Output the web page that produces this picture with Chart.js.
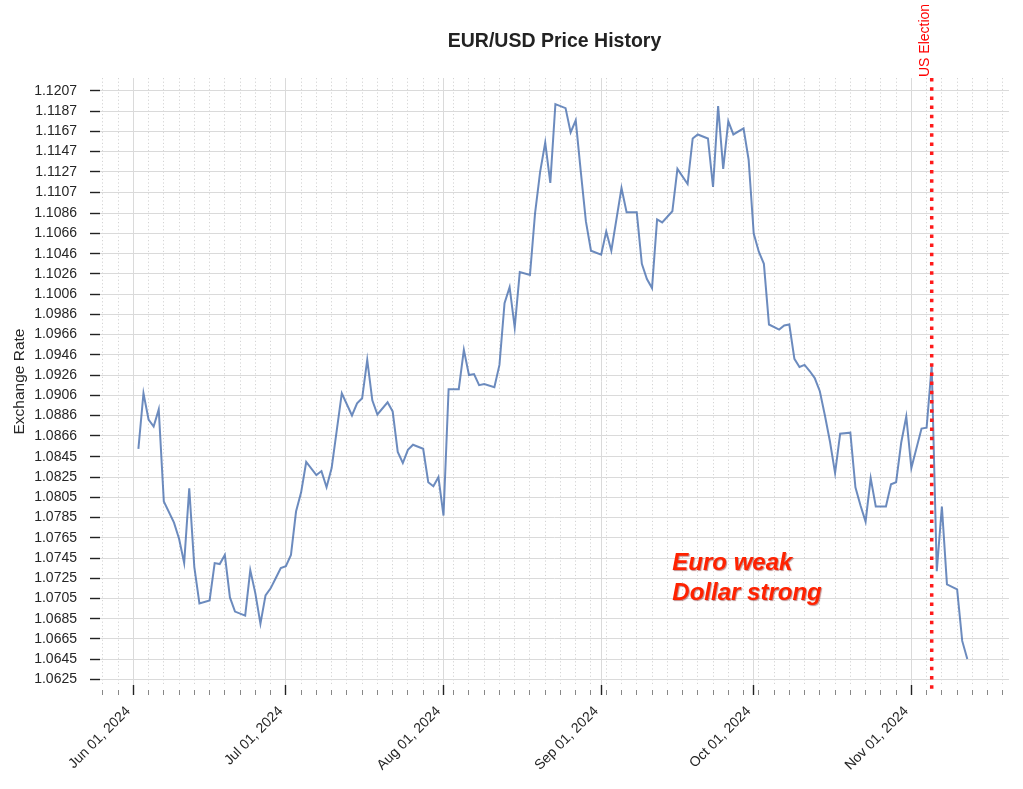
<!DOCTYPE html>
<html>
<head>
<meta charset="utf-8">
<title>EUR/USD Price History</title>
<script src="https://cdn.jsdelivr.net/npm/chart.js@4.4.1/dist/chart.umd.min.js"></script>
<style>
  html, body { margin: 0; padding: 0; background: #fff; }
  canvas { display: block; }
</style>
</head>
<body>
<canvas id="eurusd-chart" width="1023" height="789"></canvas>
<script>
// daily EUR/USD closes
const dates = [
  '2024-06-02','2024-06-03','2024-06-04','2024-06-05','2024-06-06','2024-06-07','2024-06-09','2024-06-10',
  '2024-06-11','2024-06-12','2024-06-13','2024-06-14','2024-06-16','2024-06-17','2024-06-18','2024-06-19',
  '2024-06-20','2024-06-21','2024-06-23','2024-06-24','2024-06-25','2024-06-26','2024-06-27','2024-06-28',
  '2024-06-29','2024-06-30',
  '2024-07-01','2024-07-02','2024-07-03','2024-07-04','2024-07-05','2024-07-07','2024-07-08','2024-07-09',
  '2024-07-10','2024-07-11','2024-07-12','2024-07-14','2024-07-15','2024-07-16','2024-07-17','2024-07-18',
  '2024-07-19','2024-07-21','2024-07-22','2024-07-23','2024-07-24','2024-07-25','2024-07-26','2024-07-28',
  '2024-07-29','2024-07-30','2024-07-31',
  '2024-08-01','2024-08-02','2024-08-04','2024-08-05','2024-08-06','2024-08-07','2024-08-08','2024-08-09',
  '2024-08-11','2024-08-12','2024-08-13','2024-08-14','2024-08-15','2024-08-16','2024-08-18','2024-08-19',
  '2024-08-20','2024-08-21','2024-08-22','2024-08-23','2024-08-25','2024-08-26','2024-08-27','2024-08-28',
  '2024-08-29','2024-08-30',
  '2024-09-01','2024-09-02','2024-09-03','2024-09-05','2024-09-06','2024-09-08','2024-09-09','2024-09-10',
  '2024-09-11','2024-09-12','2024-09-13','2024-09-15','2024-09-16','2024-09-18','2024-09-19','2024-09-20',
  '2024-09-22','2024-09-23','2024-09-24','2024-09-25','2024-09-26','2024-09-27','2024-09-29','2024-09-30',
  '2024-10-01','2024-10-02','2024-10-03','2024-10-04','2024-10-06','2024-10-07','2024-10-08','2024-10-09',
  '2024-10-10','2024-10-11','2024-10-12','2024-10-13','2024-10-14','2024-10-15','2024-10-16','2024-10-17',
  '2024-10-18','2024-10-20','2024-10-21','2024-10-22','2024-10-23','2024-10-24','2024-10-25','2024-10-27',
  '2024-10-28','2024-10-29','2024-10-30','2024-10-31',
  '2024-11-01','2024-11-03','2024-11-04','2024-11-05','2024-11-06','2024-11-07','2024-11-08','2024-11-10',
  '2024-11-11','2024-11-12'
];
const rates = [
  1.0853, 1.0908, 1.0882, 1.0875, 1.0892, 1.0801, 1.0780, 1.0764,
  1.0740, 1.0814, 1.0736, 1.0700, 1.0703, 1.0740, 1.0739, 1.0748,
  1.0706, 1.0692, 1.0688, 1.0733, 1.0710, 1.0680, 1.0708, 1.0715,
  1.0725, 1.0735,
  1.0737, 1.0748, 1.0791, 1.0810, 1.0840, 1.0827, 1.0831, 1.0815,
  1.0834, 1.0871, 1.0908, 1.0886, 1.0898, 1.0903, 1.0941, 1.0901,
  1.0887, 1.0899, 1.0890, 1.0850, 1.0839, 1.0852, 1.0857, 1.0853,
  1.0820, 1.0816, 1.0825,
  1.0787, 1.0912, 1.0912, 1.0951, 1.0926, 1.0927, 1.0916, 1.0917,
  1.0914, 1.0936, 1.0997, 1.1013, 1.0973, 1.1028, 1.1025, 1.1086,
  1.1127, 1.1156, 1.1116, 1.1194, 1.1190, 1.1166, 1.1178, 1.1127,
  1.1078, 1.1049,
  1.1045, 1.1068, 1.1049, 1.1111, 1.1087, 1.1087, 1.1036, 1.1021,
  1.1012, 1.1080, 1.1077, 1.1088, 1.1130, 1.1115, 1.1160, 1.1164,
  1.1160, 1.1112, 1.1192, 1.1130, 1.1177, 1.1164, 1.1170, 1.1139,
  1.1066, 1.1048, 1.1036, 1.0976, 1.0971, 1.0975, 1.0976, 1.0942,
  1.0934, 1.0936, 1.0930, 1.0923, 1.0910, 1.0886, 1.0860, 1.0829,
  1.0868, 1.0869, 1.0815, 1.0797, 1.0781, 1.0824, 1.0796, 1.0796,
  1.0818, 1.0820, 1.0859, 1.0885,
  1.0834, 1.0873, 1.0874, 1.0935, 1.0732, 1.0796, 1.0719, 1.0714,
  1.0663, 1.0645
];

const yTickLabels = [
  '1.0625','1.0645','1.0665','1.0685','1.0705','1.0725','1.0745','1.0765','1.0785','1.0805',
  '1.0825','1.0845','1.0866','1.0886','1.0906','1.0926','1.0946','1.0966','1.0986','1.1006',
  '1.1026','1.1046','1.1066','1.1086','1.1107','1.1127','1.1147','1.1167','1.1187','1.1207'
];
const monthTicks = ['2024-06-01','2024-07-01','2024-08-01','2024-09-01','2024-10-01','2024-11-01'];
const monthLabels = ['Jun 01, 2024','Jul 01, 2024','Aug 01, 2024','Sep 01, 2024','Oct 01, 2024','Nov 01, 2024'];

const electionDate = '2024-11-05';
const electionLabel = 'US Election';
const noteLines = ['Euro weak', 'Dollar strong'];
const noteDate = '2024-09-15';
const noteRate = 1.0733;

const DAY = 86400000;
const firstMonth = Date.parse(monthTicks[0]);
const xMin = firstMonth - 6.55 * DAY;
const xMax = firstMonth + 172.2 * DAY;

const yVals = yTickLabels.map(Number);
const yStep = (yVals[yVals.length - 1] - yVals[0]) / (yVals.length - 1);
const yMin = yVals[0] - 0.28 * yStep;
const yMax = yVals[yVals.length - 1] + 0.64 * yStep;

const FONT = "'Liberation Sans', Arial, sans-serif";
Chart.defaults.font.family = FONT;
Chart.defaults.color = '#262626';

const isMinor = (c) => !!(c.tick && c.tick.minor);

const gridStyle = {
  color: (c) => isMinor(c) ? '#d4d4d4' : '#dadada',
  lineWidth: 1,
  tickLength: 10,
  tickColor: (c) => isMinor(c) ? '#888' : '#222',
  tickWidth: (c) => isMinor(c) ? 1 : 1.4,
  tickBorderDash: (c) => isMinor(c) ? [5, 5] : [],
  tickBorderDashOffset: (c) => isMinor(c) ? 5 : 0,
};
const borderStyle = {
  display: false,
  dash: (c) => isMinor(c) ? [1.2, 2.4] : [],
};

const annotations = {
  id: 'annotations',
  afterDatasetsDraw(chart) {
    const { ctx, chartArea, scales: { x, y } } = chart;
    const ex = x.getPixelForValue(Date.parse(electionDate));
    ctx.save();
    ctx.strokeStyle = '#ff1a1a';
    ctx.lineWidth = 3.5;
    ctx.setLineDash([3.5, 5.7]);
    ctx.beginPath();
    ctx.moveTo(ex, chartArea.top);
    ctx.lineTo(ex, chartArea.bottom + 4);
    ctx.stroke();
    ctx.setLineDash([]);

    ctx.save();
    ctx.translate(ex - 3, chartArea.top - 1);
    ctx.rotate(-Math.PI / 2);
    ctx.fillStyle = '#ff0000';
    ctx.font = '14px ' + FONT;
    ctx.textAlign = 'left';
    ctx.textBaseline = 'alphabetic';
    ctx.fillText(electionLabel, 0, 0);
    ctx.restore();

    const nx = x.getPixelForValue(Date.parse(noteDate));
    const ny = y.getPixelForValue(noteRate);
    ctx.font = 'italic bold 24px ' + FONT;
    ctx.fillStyle = '#ff2200';
    ctx.textAlign = 'left';
    ctx.textBaseline = 'alphabetic';
    ctx.shadowColor = 'rgba(120,0,0,0.45)';
    ctx.shadowOffsetX = 1;
    ctx.shadowOffsetY = 1;
    ctx.shadowBlur = 1;
    noteLines.forEach((line, i) => ctx.fillText(line, nx, ny + i * 30));
    ctx.restore();
  }
};

const ctx = document.getElementById('eurusd-chart');
new Chart(ctx, {
  type: 'line',
  data: {
    datasets: [{
      label: 'EUR/USD',
      data: dates.map((d, i) => ({ x: Date.parse(d), y: rates[i] })),
      borderColor: 'rgba(76,114,176,0.82)',
      borderWidth: 2,
      pointRadius: 0,
      tension: 0,
      fill: false,
    }]
  },
  options: {
    responsive: false,
    animation: false,
    devicePixelRatio: 1,
    layout: { autoPadding: false, padding: { left: 0, right: 14, top: 0, bottom: 0 } },
    plugins: {
      legend: { display: false },
      tooltip: { enabled: false },
      title: {
        display: true,
        text: 'EUR/USD Price History',
        fullSize: false,
        color: '#222',
        font: { size: 19.5, weight: 'bold' },
        padding: { top: 30.3, bottom: 24.3 },
      },
    },
    scales: {
      x: {
        type: 'linear',
        min: xMin,
        max: xMax,
        afterBuildTicks: (scale) => {
          const ticks = [];
          const majors = monthTicks.map((d) => Date.parse(d));
          for (let t = firstMonth - 6 * DAY; t <= xMax; t += 3 * DAY) {
            if (t >= xMin && !majors.includes(t)) ticks.push({ value: t, minor: true });
          }
          majors.forEach((t) => ticks.push({ value: t, minor: false }));
          ticks.sort((a, b) => a.value - b.value);
          scale.ticks = ticks;
        },
        afterFit: (scale) => { scale.height = 104; },
        ticks: {
          autoSkip: false,
          minRotation: 45,
          maxRotation: 45,
          padding: 8,
          labelOffset: -5,
          color: '#262626',
          font: { size: 14 },
          callback: (value) => {
            const i = monthTicks.findIndex((d) => Date.parse(d) === value);
            return i >= 0 ? monthLabels[i] : '';
          },
        },
        grid: gridStyle,
        border: borderStyle,
      },
      y: {
        min: yMin,
        max: yMax,
        afterBuildTicks: (scale) => {
          const ticks = yVals.map((v) => ({ value: v, minor: false }));
          for (let i = 0; i < yVals.length; i++) {
            const mid = yVals[i] + yStep / 2;
            if (mid < yMax) ticks.push({ value: mid, minor: true });
          }
          ticks.sort((a, b) => a.value - b.value);
          scale.ticks = ticks;
        },
        afterFit: (scale) => { scale.width = 100; },
        ticks: {
          padding: 13,
          color: '#262626',
          font: { size: 14 },
          callback: (value) => {
            const i = yVals.indexOf(value);
            return i >= 0 ? yTickLabels[i] : '';
          },
        },
        title: {
          display: true,
          text: 'Exchange Rate',
          color: '#262626',
          font: { size: 15.5 },
          padding: { top: 10.7, bottom: 0 },
        },
        grid: gridStyle,
        border: borderStyle,
      },
    },
  },
  plugins: [annotations],
});
</script>
</body>
</html>
